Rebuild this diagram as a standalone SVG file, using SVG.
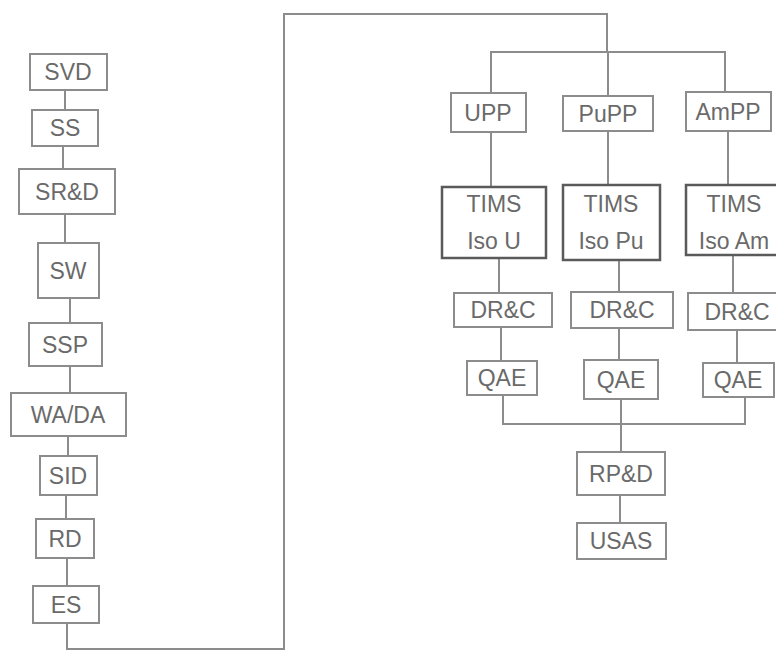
<svg xmlns="http://www.w3.org/2000/svg" width="776" height="652" viewBox="0 0 776 652">
<style>
.b{fill:#fff;stroke:#8c8c8c;stroke-width:2}
.bt{fill:#fff;stroke:#5a5a5a;stroke-width:2.5}
.t{font-family:"Liberation Sans",Arial,sans-serif;font-size:23px;fill:#6a6a6a;text-anchor:middle}
.c{fill:none;stroke:#8c8c8c;stroke-width:2}
</style>
<rect width="776" height="652" fill="#fff"/>
<g id="connectors">
<path class="c" d="M65 90V110M63 146V169M65 214V243M70 298V323M70 366V393M68 436V456M66 495V519M67 558V586"/>
<path class="c" d="M67 623V649H284V14H607V52M491 93V52H725V92M608 52V96"/>
<path class="c" d="M491 132V187M608 131V185M728 131V185"/>
<path class="c" d="M499 258V293M619 260V292M733 255V293"/>
<path class="c" d="M501 327V361M619 328V360M737 330V363"/>
<path class="c" d="M503 395V424H745V397M621 399V452M620 495V523"/>
</g>
<g id="svd"><rect class="b" x="30" y="54" width="77" height="36"/><text class="t" x="68" y="80">SVD</text></g>
<g id="ss"><rect class="b" x="32" y="110" width="66" height="36"/><text class="t" x="65" y="136">SS</text></g>
<g id="srd"><rect class="b" x="19" y="169" width="96" height="45"/><text class="t" x="67" y="200">SR&amp;D</text></g>
<g id="sw"><rect class="b" x="38" y="243" width="61" height="55"/><text class="t" x="68" y="279">SW</text></g>
<g id="ssp"><rect class="b" x="29" y="323" width="73" height="43"/><text class="t" x="65" y="353">SSP</text></g>
<g id="wada"><rect class="b" x="11" y="393" width="115" height="43"/><text class="t" x="68" y="423">WA/DA</text></g>
<g id="sid"><rect class="b" x="40" y="456" width="57" height="39"/><text class="t" x="68" y="484">SID</text></g>
<g id="rd"><rect class="b" x="36" y="519" width="58" height="39"/><text class="t" x="65" y="547">RD</text></g>
<g id="es"><rect class="b" x="33" y="586" width="66" height="37"/><text class="t" x="66" y="613">ES</text></g>
<g id="upp"><rect class="b" x="451" y="93" width="75" height="39"/><text class="t" x="488" y="121">UPP</text></g>
<g id="pupp"><rect class="b" x="563" y="96" width="90" height="35"/><text class="t" x="608" y="122">PuPP</text></g>
<g id="ampp"><rect class="b" x="686" y="92" width="85" height="39"/><text class="t" x="728" y="120">AmPP</text></g>
<g id="timsu"><rect class="bt" x="442" y="187" width="104" height="71"/><text class="t" x="494" y="212">TIMS</text><text class="t" x="494" y="249">Iso U</text></g>
<g id="timspu"><rect class="bt" x="563" y="185" width="97" height="75"/><text class="t" x="611" y="212">TIMS</text><text class="t" x="611" y="249">Iso Pu</text></g>
<g id="timsam"><rect class="bt" x="686" y="185" width="96" height="70"/><text class="t" x="734" y="212">TIMS</text><text class="t" x="734" y="249">Iso Am</text></g>
<g id="drc1"><rect class="b" x="454" y="293" width="98" height="34"/><text class="t" x="503" y="318">DR&amp;C</text></g>
<g id="drc2"><rect class="b" x="571" y="292" width="102" height="36"/><text class="t" x="622" y="318">DR&amp;C</text></g>
<g id="drc3"><rect class="b" x="688" y="293" width="98" height="37"/><text class="t" x="737" y="320">DR&amp;C</text></g>
<g id="qae1"><rect class="b" x="467" y="361" width="70" height="34"/><text class="t" x="502" y="386">QAE</text></g>
<g id="qae2"><rect class="b" x="584" y="360" width="74" height="39"/><text class="t" x="621" y="388">QAE</text></g>
<g id="qae3"><rect class="b" x="703" y="363" width="71" height="34"/><text class="t" x="738" y="388">QAE</text></g>
<g id="rpd"><rect class="b" x="577" y="452" width="88" height="43"/><text class="t" x="621" y="482">RP&amp;D</text></g>
<g id="usas"><rect class="b" x="577" y="523" width="89" height="36"/><text class="t" x="621" y="549">USAS</text></g>
</svg>
